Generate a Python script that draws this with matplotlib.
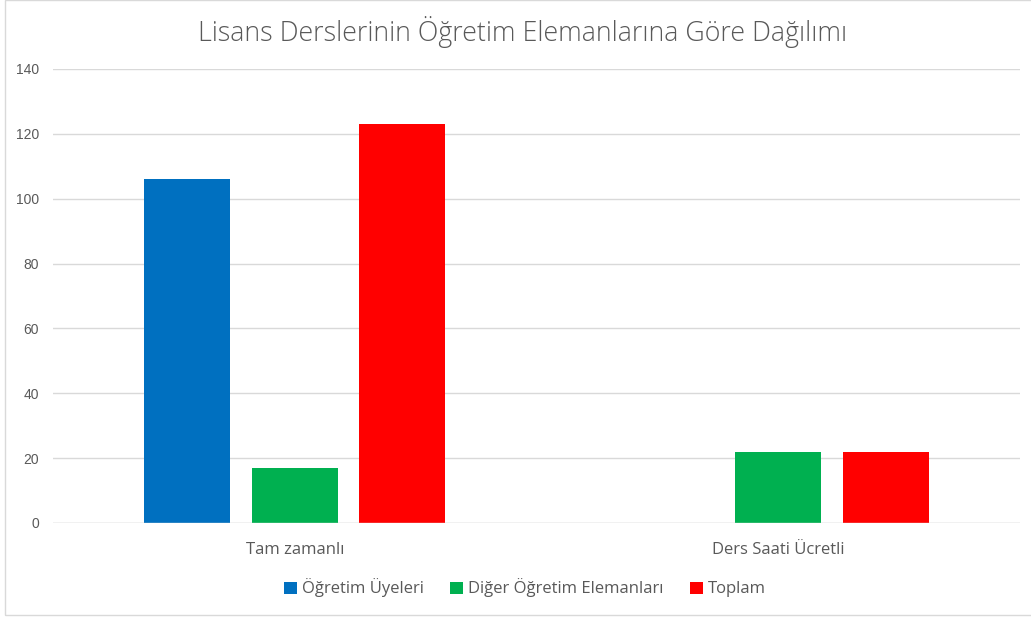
import matplotlib
matplotlib.use("Agg")
import matplotlib.pyplot as plt
from matplotlib.patches import Rectangle
import numpy as np

categories = ["Tam zamanlı", "Ders Saati Ücretli"]
series_names = ["Öğretim Üyeleri", "Diğer Öğretim Elemanları", "Toplam"]
ogretim_uyeleri = [106, 0]
diger = [17, 22]
toplam = [123, 22]
colors = ["#0070C0", "#00B050", "#FF0000"]
yticks = [0, 20, 40, 60, 80, 100, 120, 140]

plt.rcParams['font.family'] = ['Open Sans', 'DejaVu Sans']
fig = plt.figure(figsize=(10.31, 6.19), dpi=100)
ax = fig.add_axes([53/1031, 1-523/619, (1020-53)/1031, (523-69)/619])

x = np.arange(len(categories))
w = 0.178
off = 0.222
for i, (vals, name, c) in enumerate(zip([ogretim_uyeleri, diger, toplam], series_names, colors)):
    ax.bar(x + (i-1)*off, vals, width=w, color=c, label=name, zorder=3)

ax.set_xlim(-0.5, 1.5)
ax.set_ylim(0, 140)
ax.set_yticks(yticks)
ax.set_yticklabels([str(v) for v in yticks], fontsize=10, color="#595959", family=['Liberation Sans'])
ax.set_xticks(x)
ax.set_xticklabels(categories, fontsize=12, color="#595959")
ax.tick_params(axis='both', length=0)
ax.tick_params(axis='y', pad=10)
ax.tick_params(axis='x', pad=14)
ax.grid(axis='y', color="#d9d9d9", linewidth=1, zorder=0)
ax.axhline(0, color="#d9d9d9", linewidth=1, zorder=4)
for s in ax.spines.values():
    s.set_visible(False)

fig.text(523/1031, 1-32/619, "Lisans Derslerinin Öğretim Elemanlarına Göre Dağılımı",
         ha='center', va='center', fontsize=19.3, color="#595959", fontweight='light')

leg = fig.legend(loc='center', bbox_to_anchor=(525/1031, 1-588/619), ncol=3, frameon=False,
                 fontsize=12, handlelength=0.75, handleheight=0.75, handletextpad=0.3,
                 columnspacing=1.6)
for t in leg.get_texts():
    t.set_color("#595959")

fig.patches.append(Rectangle((5/1031, 1-615/619), 1.0, 615/619, transform=fig.transFigure,
                             fill=False, edgecolor="#d9d9d9", linewidth=1))

fig.savefig("out.png", dpi=100)
